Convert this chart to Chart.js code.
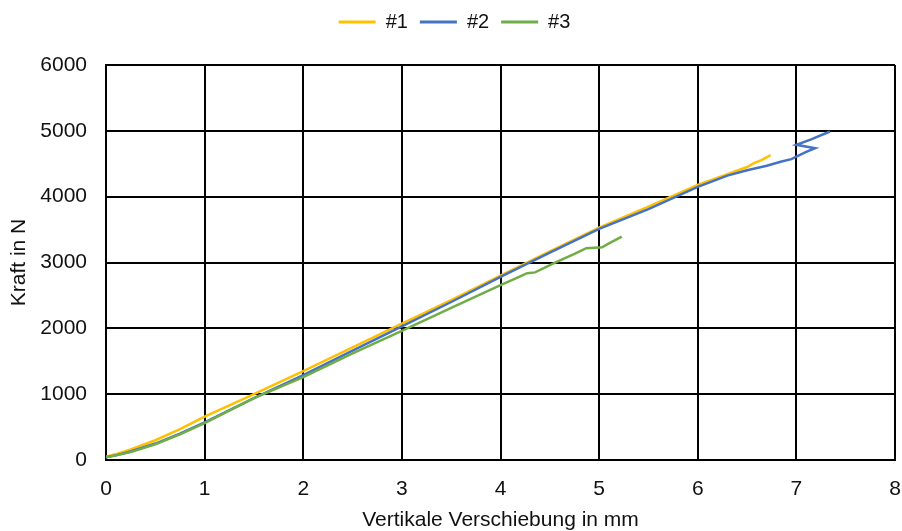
<!DOCTYPE html>
<html>
<head>
<meta charset="utf-8">
<script src="https://cdn.jsdelivr.net/npm/chart.js@4/dist/chart.umd.min.js"></script>
<style>
  html, body { margin: 0; padding: 0; background: #fff; }
  #wrap { width: 902px; height: 531px; }
</style>
</head>
<body>
<div id="wrap"><canvas id="c" width="902" height="531"></canvas></div>
<script>
// Probe #1 – displacement (mm) and force (N)
const s1x = [0, 0.1, 0.25, 0.5, 0.75, 1, 1.25, 1.5, 2, 2.5, 3, 3.5, 4, 4.5, 5, 5.5, 6, 6.3, 6.5, 6.57, 6.65, 6.74];
const s1y = [50, 90, 160, 300, 470, 660, 830, 1000, 1350, 1710, 2070, 2430, 2800, 3170, 3530, 3850, 4180, 4340, 4450, 4510, 4560, 4630];

// Probe #2
const s2x = [0, 0.1, 0.25, 0.5, 0.75, 1, 1.5, 2, 2.5, 3, 3.5, 4, 4.5, 5, 5.5, 6, 6.3, 6.5, 6.7, 6.84, 6.95, 7.0, 7.1, 7.19, 7.0, 7.15, 7.34];
const s2y = [40, 70, 130, 250, 400, 570, 940, 1290, 1660, 2030, 2400, 2780, 3150, 3510, 3810, 4150, 4320, 4400, 4470, 4530, 4570, 4610, 4680, 4737, 4787, 4870, 4990];

// Probe #3
const s3x = [0, 0.1, 0.25, 0.5, 0.75, 1, 1.5, 2, 2.5, 3, 3.5, 4, 4.2, 4.27, 4.35, 4.57, 4.75, 4.87, 5.03, 5.1, 5.23];
const s3y = [40, 70, 120, 240, 390, 560, 940, 1260, 1620, 1960, 2310, 2655, 2790, 2837, 2850, 3010, 3130, 3217, 3232, 3290, 3394];

const seriesNames = ['#1', '#2', '#3'];
const seriesColors = ['#FFC000', '#4472C4', '#70AD47'];

const xTicks = [0, 1, 2, 3, 4, 5, 6, 7, 8];
const yTicks = [0, 1000, 2000, 3000, 4000, 5000, 6000];

const xTitle = 'Vertikale Verschiebung in mm';
const yTitle = 'Kraft in N';

function toPoints(xs, ys) {
  return xs.map((x, i) => ({ x: x, y: ys[i] }));
}

const seriesX = [s1x, s2x, s3x];
const seriesY = [s1y, s2y, s3y];

const datasets = seriesNames.map((name, i) => ({
  label: name,
  data: toPoints(seriesX[i], seriesY[i]),
  borderColor: seriesColors[i],
  backgroundColor: seriesColors[i],
  borderWidth: 2.5,
  showLine: true,
  pointRadius: 0,
  tension: 0,
  order: seriesNames.length - i
}));

// Fixed-height legend band above the plot, nudged slightly right
const legendBand = {
  id: 'legendBand',
  beforeUpdate(chart) {
    const lg = chart.legend;
    if (lg && !lg._bandFixed) {
      const fit = lg.fit;
      lg.fit = function () { fit.call(this); this.height = 65; };
      lg._bandFixed = true;
    }
  },
  afterLayout(chart) {
    const lg = chart.legend;
    if (lg) { lg.left += 7; lg.right += 7; }
  }
};

const font = 'Liberation Sans, Arial, sans-serif';
const textColor = '#111';

new Chart(document.getElementById('c'), {
  type: 'scatter',
  data: { datasets: datasets },
  plugins: [legendBand],
  options: {
    responsive: false,
    animation: false,
    layout: { padding: { left: 0, right: 7, top: 0, bottom: 0 } },
    plugins: {
      tooltip: { enabled: false },
      legend: {
        position: 'top',
        labels: {
          color: textColor,
          font: { family: font, size: 20 },
          boxWidth: 37,
          boxHeight: 3,
          padding: 12,
          sort: (a, b) => a.datasetIndex - b.datasetIndex,
          generateLabels(chart) {
            const items = Chart.defaults.plugins.legend.labels.generateLabels(chart);
            items.forEach(it => { it.lineWidth = 0; });
            return items;
          }
        }
      }
    },
    scales: {
      x: {
        type: 'linear',
        min: xTicks[0],
        max: xTicks[xTicks.length - 1],
        afterBuildTicks(scale) { scale.ticks = xTicks.map(v => ({ value: v })); },
        afterFit(scale) { scale.height = 71; scale.paddingLeft = 0; scale.paddingRight = 0; },
        ticks: { color: textColor, font: { family: font, size: 21 }, padding: 17, maxRotation: 0,
                 callback: v => String(v) },
        grid: { color: '#000', lineWidth: 2, drawTicks: false },
        border: { color: '#000', width: 2 },
        title: { display: true, text: xTitle, color: textColor,
                 font: { family: font, size: 21, lineHeight: 1.0 }, padding: { top: 0, bottom: 0 } }
      },
      y: {
        type: 'linear',
        min: yTicks[0],
        max: yTicks[yTicks.length - 1],
        afterBuildTicks(scale) { scale.ticks = yTicks.map(v => ({ value: v })); },
        afterFit(scale) { scale.width = 106; },
        ticks: { color: textColor, font: { family: font, size: 21 }, padding: 19,
                 callback: v => String(v) },
        grid: { color: '#000', lineWidth: 2, drawTicks: false },
        border: { color: '#000', width: 2 },
        title: { display: true, text: yTitle, color: textColor, font: { family: font, size: 21 }, padding: { top: 7, bottom: 0 } }
      }
    }
  }
});
</script>
</body>
</html>
